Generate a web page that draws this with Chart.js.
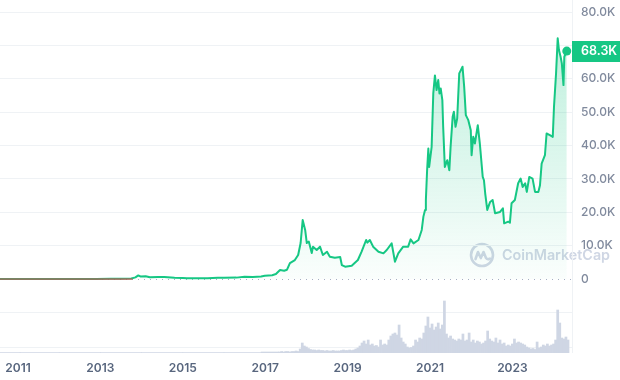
<!DOCTYPE html>
<html lang="en">
<head>
    <meta charset="UTF-8">
    <title>Bitcoin Price Chart</title>
    <script src="https://cdn.jsdelivr.net/npm/chart.js"></script>
    <style>
        html, body { margin: 0; padding: 0; background: #fff; }
        #btcChart { display: block; }
    </style>
</head>
<body>
    <canvas id="btcChart" width="620" height="380"></canvas>

    <script>
        // Price series (decimal year, USD)
        const priceDates = [
            2010.563, 2010.9, 2011.2, 2011.45, 2011.7, 2012.0, 2012.5, 2012.9, 2013.25, 2013.5,
            2013.75, 2013.85, 2013.92, 2013.98, 2014.1, 2014.2, 2014.4, 2014.55, 2014.8, 2015.0,
            2015.1, 2015.4, 2015.6, 2015.85, 2016.0, 2016.3, 2016.5, 2016.7, 2016.9, 2016.99,
            2017.17, 2017.26, 2017.36, 2017.46, 2017.53, 2017.60, 2017.72, 2017.80, 2017.86, 2017.91,
            2017.97, 2018.01, 2018.06, 2018.13, 2018.16, 2018.25, 2018.33, 2018.40, 2018.50, 2018.57,
            2018.69, 2018.82, 2018.86, 2018.94, 2019.10, 2019.25, 2019.34, 2019.45, 2019.48, 2019.54,
            2019.62, 2019.75, 2019.87, 2019.95, 2020.07, 2020.15, 2020.23, 2020.35, 2020.47, 2020.53,
            2020.60, 2020.72, 2020.80, 2020.84, 2020.88, 2020.90, 2020.93, 2020.96, 2020.98, 2021.04,
            2021.08, 2021.12, 2021.16, 2021.20, 2021.23, 2021.26, 2021.30, 2021.32, 2021.36, 2021.42,
            2021.47, 2021.50, 2021.55, 2021.58, 2021.62, 2021.66, 2021.71, 2021.75, 2021.79, 2021.83,
            2021.87, 2021.93, 2021.99, 2022.01, 2022.05, 2022.09, 2022.16, 2022.21, 2022.28, 2022.31,
            2022.34, 2022.39, 2022.46, 2022.52, 2022.58, 2022.70, 2022.77, 2022.80, 2022.90, 2022.94,
            2022.98, 2023.06, 2023.14, 2023.20, 2023.25, 2023.31, 2023.35, 2023.41, 2023.49, 2023.55,
            2023.63, 2023.67, 2023.71, 2023.79, 2023.83, 2023.91, 2023.98, 2024.01, 2024.06, 2024.10,
            2024.13, 2024.17, 2024.20, 2024.24, 2024.26, 2024.32
        ];
        const prices = [
            0.05, 0.2, 1, 18, 5, 5, 7, 13, 100, 100,
            150, 500, 1100, 750, 850, 550, 600, 620, 380, 300,
            230, 240, 260, 380, 420, 430, 700, 610, 750, 1000,
            1150, 1500, 2700, 2500, 2800, 4800, 5700, 7200, 10800, 17700,
            14700, 10800, 11200, 7800, 9700, 8700, 9700, 7200, 8200, 6700,
            6400, 6600, 4200, 3700, 4000, 5700, 8200, 11700, 10900, 11700,
            9700, 8200, 7700, 8700, 10700, 5200, 7700, 9700, 9700, 11900,
            10700, 11700, 14700, 18700, 20700, 23700, 32600, 39100, 33600, 39600,
            55600, 61000, 56600, 59600, 55600, 57100, 53600, 45600, 33600, 35600,
            32600, 39600, 48600, 50100, 45600, 48100, 61600, 62600, 63600, 57600,
            49100, 47600, 44600, 37100, 42600, 40600, 46100, 40600, 30600, 29600,
            25700, 20700, 23100, 23700, 19700, 20100, 21200, 16700, 17200, 16900,
            22700, 23700, 28700, 30100, 27600, 28700, 26100, 30600, 30100, 26100,
            26100, 28100, 34600, 37100, 43600, 43100, 42600, 51600, 61600, 72100,
            68600, 66600, 64600, 58100, 66600, 68300
        ];

        // Early-period price line drawn in red along the baseline
        const baseDates = [2010.563, 2013.78];
        const baseValues = [0, 0];

        // Volume (billions USD): sparse before mid 2017, then every 0.05 year
        const earlyVolDates = [2010.6, 2011.5, 2012.5, 2013.5, 2014.5, 2015.5, 2016.5];
        const earlyVolumes = [1, 1, 1, 1, 1, 1, 1];
        const volStart = 2017.30;
        const volStep = 0.05;
        const volumes = [
            2, 2, 3, 2, 3, 3, 2, 3, 3, 4, 3, 8, 20, 14,
            12, 9, 7, 6, 6, 5, 6, 5, 5, 4, 5, 4, 4, 5, 4, 4, 4, 5, 6, 5,
            5, 6, 5, 6, 8, 10, 14, 20, 24, 18, 26, 16, 18, 14, 15, 12, 26, 16, 18, 16,
            26, 34, 38, 40, 36, 56, 30, 22, 18, 12, 10, 11, 14, 26, 22, 30, 28, 40, 54, 72,
            50, 58, 46, 52, 60, 48, 56, 104, 38, 30, 34, 28, 26, 24, 28, 26, 38, 24, 26, 40,
            22, 26, 20, 24, 22, 18, 20, 24, 44, 28, 24, 22, 30, 20, 26, 18, 20, 14, 16, 14,
            18, 28, 20, 22, 20, 18, 16, 12, 10, 8, 9, 7, 22, 10, 12, 16, 14, 18, 14, 16,
            18, 26, 86, 60, 30, 28, 32, 26
        ];

        const yearTicks = [2011, 2013, 2015, 2017, 2019, 2021, 2023];
        const priceTicks = [0, 10000, 20000, 30000, 40000, 50000, 60000, 70000, 80000];
        const volGridTicks = [12, 82];
        const lastPriceLabel = '68.3K';

        const X_MIN = 2010.563;
        const X_MAX = 2024.447;
        const GREEN = '#16c784';
        const lastPrice = prices[prices.length - 1];

        const priceData = priceDates.map((d, i) => ({ x: d, y: prices[i] }));
        const baseData = baseDates.map((d, i) => ({ x: d, y: baseValues[i] }));
        const volData = earlyVolDates.map((d, i) => ({ x: d, y: earlyVolumes[i] }))
            .concat(volumes.map((v, i) => ({ x: volStart + i * volStep, y: v })));

        const fmtPrice = v => v === 0 ? '0' : (v / 1000).toFixed(1) + 'K';

        // watermark behind everything
        const watermark = {
            id: 'watermark',
            beforeDraw(chart) {
                const ctx = chart.ctx;
                const cy = chart.scales.y.getPixelForValue(0) - 24;
                const cx = chart.chartArea.right - 90;
                ctx.save();
                ctx.strokeStyle = '#cfd6e4';
                ctx.lineWidth = 2.6;
                ctx.beginPath();
                ctx.arc(cx, cy, 11, 0, Math.PI * 2);
                ctx.stroke();
                ctx.lineJoin = 'round';
                ctx.lineCap = 'round';
                ctx.beginPath();
                ctx.moveTo(cx - 6.5, cy + 4);
                ctx.lineTo(cx - 4, cy - 3);
                ctx.lineTo(cx - 1.2, cy + 3);
                ctx.lineTo(cx + 1.5, cy - 3);
                ctx.lineTo(cx + 4, cy + 3);
                ctx.quadraticCurveTo(cx + 5.5, cy + 5, cx + 8, cy + 3.5);
                ctx.stroke();
                ctx.fillStyle = '#cfd6e4';
                ctx.font = '600 16px Inter';
                const w = ctx.measureText('CoinMarketCap').width;
                const size = 16 * 108 / w;
                ctx.font = '600 ' + size.toFixed(2) + 'px Inter';
                ctx.textBaseline = 'middle';
                ctx.fillText('CoinMarketCap', cx + 20, cy + 1);
                ctx.restore();
            }
        };

        // dotted zero line + right border
        const guides = {
            id: 'guides',
            beforeDatasetsDraw(chart) {
                const ctx = chart.ctx;
                const area = chart.chartArea;
                const y0 = Math.round(chart.scales.y.getPixelForValue(0)) + 0.5;
                ctx.save();
                ctx.strokeStyle = '#a6b0c3';
                ctx.lineWidth = 1;
                ctx.setLineDash([1, 5]);
                ctx.beginPath();
                ctx.moveTo(area.left, y0);
                ctx.lineTo(area.right, y0);
                ctx.stroke();
                ctx.setLineDash([]);
                ctx.strokeStyle = '#eff2f5';
                ctx.beginPath();
                ctx.moveTo(area.right + 0.5, 0);
                ctx.lineTo(area.right + 0.5, area.bottom);
                ctx.stroke();
                ctx.restore();
            }
        };

        // current price tag on the right axis
        const priceTag = {
            id: 'priceTag',
            afterDraw(chart) {
                const ctx = chart.ctx;
                const area = chart.chartArea;
                const y = chart.scales.y.getPixelForValue(lastPrice);
                ctx.save();
                ctx.fillStyle = GREEN;
                ctx.fillRect(area.right, Math.round(y - 10.5), chart.width - area.right, 21);
                ctx.fillStyle = '#fff';
                ctx.font = '600 12.5px Inter';
                ctx.textBaseline = 'middle';
                ctx.fillText(lastPriceLabel, area.right + 9, y + 0.5);
                ctx.restore();
            }
        };

        const ctx = document.getElementById('btcChart').getContext('2d');
        const btcChart = new Chart(ctx, {
            data: {
                datasets: [
                    {
                        type: 'line',
                        label: 'Price',
                        data: priceData,
                        yAxisID: 'y',
                        borderColor: GREEN,
                        borderWidth: 2,
                        borderJoinStyle: 'round',
                        tension: 0,
                        fill: 'origin',
                        backgroundColor: (c) => {
                            const area = c.chart.chartArea;
                            if (!area) return 'rgba(22,199,132,0.1)';
                            const y0 = c.chart.scales.y.getPixelForValue(0);
                            const g = c.chart.ctx.createLinearGradient(0, area.top, 0, y0);
                            g.addColorStop(0, 'rgba(22,199,132,0.30)');
                            g.addColorStop(1, 'rgba(22,199,132,0.02)');
                            return g;
                        },
                        pointRadius: (c) => c.dataIndex === prices.length - 1 ? 4.5 : 0,
                        pointBackgroundColor: GREEN,
                        pointBorderWidth: 0,
                        order: 2
                    },
                    {
                        type: 'line',
                        label: 'Base',
                        data: baseData,
                        yAxisID: 'y',
                        borderColor: '#ea3943',
                        borderWidth: 1,
                        pointRadius: 0,
                        fill: false,
                        order: 1
                    },
                    {
                        type: 'bar',
                        label: 'Volume',
                        data: volData,
                        yAxisID: 'yVol',
                        backgroundColor: '#cfd6e4',
                        barThickness: 'flex',
                        barPercentage: 1,
                        categoryPercentage: 1,
                        order: 3
                    }
                ]
            },
            options: {
                responsive: false,
                animation: false,
                devicePixelRatio: 1,
                layout: { autoPadding: false, padding: { top: 12, left: 0, right: 0, bottom: 0 } },
                plugins: {
                    legend: { display: false },
                    tooltip: { enabled: false }
                },
                scales: {
                    x: {
                        type: 'linear',
                        offset: false,
                        min: X_MIN,
                        max: X_MAX,
                        grid: { display: false, offset: false, drawTicks: false },
                        border: { display: false },
                        afterBuildTicks: s => { s.ticks = yearTicks.map(v => ({ value: v })); },
                        afterFit: s => { s.height = 27; s.paddingLeft = 0; s.paddingRight = 0; },
                        ticks: {
                            color: '#58667e',
                            font: { family: 'Inter', size: 12, weight: '600' },
                            padding: 8,
                            maxRotation: 0,
                            autoSkip: false,
                            callback: v => String(v)
                        }
                    },
                    y: {
                        position: 'right',
                        min: -22150,
                        max: 80000,
                        afterBuildTicks: s => { s.ticks = priceTicks.map(v => ({ value: v })); },
                        afterFit: s => { s.width = 48; s.paddingTop = 0; s.paddingBottom = 0; },
                        grid: {
                            color: c => c.tick && c.tick.value === 0 ? 'rgba(0,0,0,0)' : '#eff2f5',
                            drawTicks: false
                        },
                        border: { display: false },
                        ticks: {
                            // the label under the current price tag stays hidden
                            color: c => c.tick && Math.abs(c.tick.value - lastPrice) < 4000 ? 'rgba(0,0,0,0)' : '#808a9d',
                            font: { family: 'Inter', size: 12, weight: '500' },
                            padding: 9,
                            callback: v => fmtPrice(v)
                        }
                    },
                    yVol: {
                        position: 'right',
                        min: 0,
                        max: 682,
                        afterBuildTicks: s => { s.ticks = volGridTicks.map(v => ({ value: v })); },
                        afterFit: s => { s.width = 0; s.paddingTop = 0; s.paddingBottom = 0; },
                        grid: { color: '#eff2f5', drawTicks: false },
                        border: { display: false },
                        ticks: { display: false }
                    }
                }
            },
            plugins: [watermark, guides, priceTag]
        });
    </script>
</body>
</html>
